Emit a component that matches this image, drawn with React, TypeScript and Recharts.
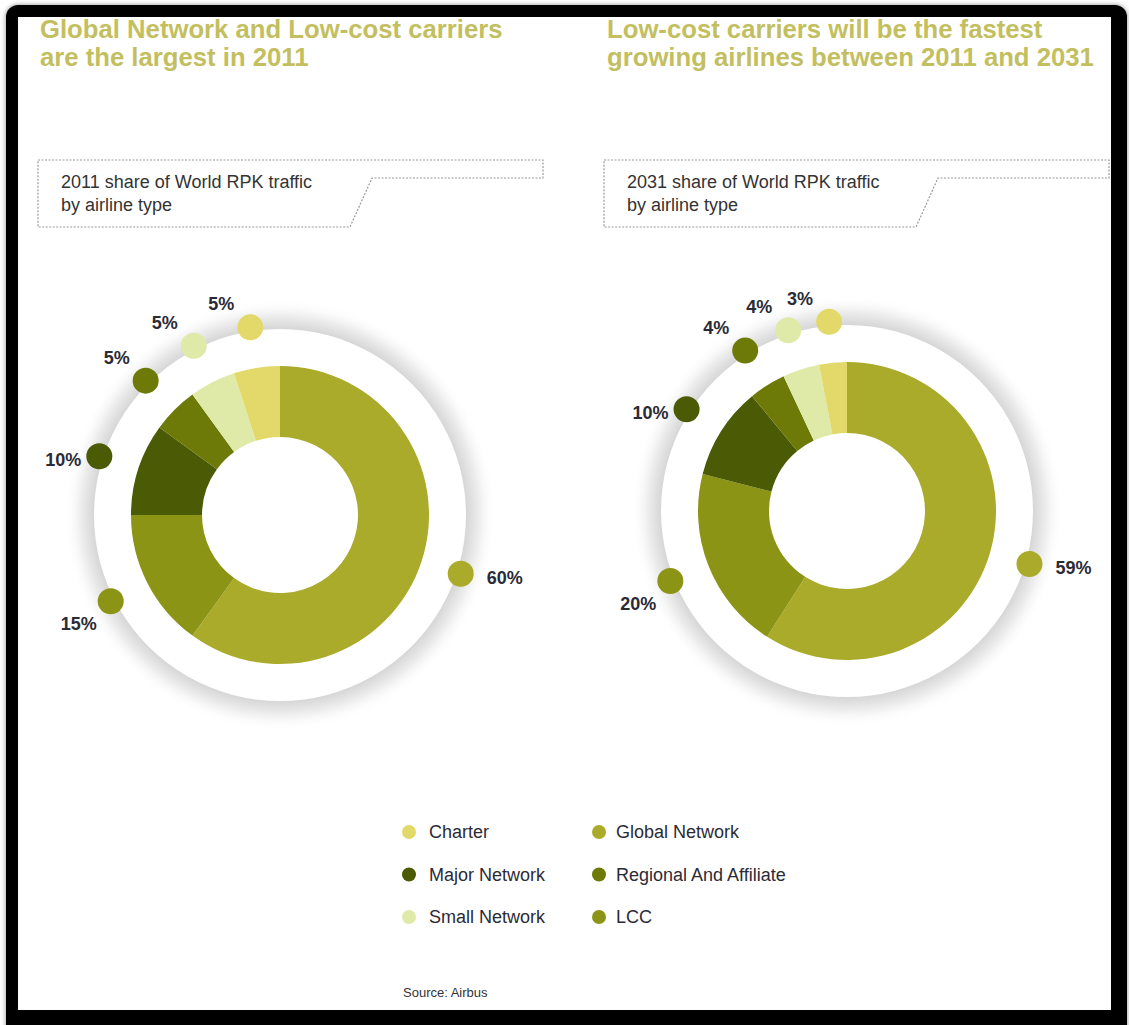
import React from 'react';
import { PieChart, Pie, Cell } from 'recharts';

const CATEGORIES = ['Global Network', 'LCC', 'Major Network', 'Regional And Affiliate', 'Small Network', 'Charter'];
const SHARE_2011 = [60, 15, 10, 5, 5, 5];
const SHARE_2031 = [59, 20, 10, 4, 4, 3];
const LEGEND_ORDER = ['Charter', 'Global Network', 'Major Network', 'Regional And Affiliate', 'Small Network', 'LCC'];
const COLORS: Record<string, string> = {
  'Global Network': '#AAAB2B',
  'LCC': '#8B9414',
  'Major Network': '#4A5A05',
  'Regional And Affiliate': '#6E7A08',
  'Small Network': '#E0EAA8',
  'Charter': '#E2D96A',
};

const TITLE_LEFT = ['Global Network and Low-cost carriers', 'are the largest in 2011'];
const TITLE_RIGHT = ['Low-cost carriers will be the fastest', 'growing airlines between 2011 and 2031'];
const SUB_LEFT = ['2011 share of World RPK traffic', 'by airline type'];
const SUB_RIGHT = ['2031 share of World RPK traffic', 'by airline type'];
const SOURCE = 'Source: Airbus';

const data2011 = CATEGORIES.map((name, i) => ({ name, value: SHARE_2011[i] }));
const data2031 = CATEGORIES.map((name, i) => ({ name, value: SHARE_2031[i] }));
const ring = [{ name: 'ring', value: 1 }];

const RAD = Math.PI / 180;
const FONT = "'Liberation Sans', Arial, Helvetica, sans-serif";
const TITLE_COLOR = '#C3BF60';
const TEXT_DARK = '#2b2b36';

const renderDot = (props: any) => {
  const { cx, cy, midAngle, index, value } = props;
  const R = 190;
  const x = cx + R * Math.cos(-midAngle * RAD);
  const y = cy + R * Math.sin(-midAngle * RAD);
  const c = Math.cos(midAngle * RAD);
  const s = Math.sin(midAngle * RAD);
  let dx = 44, dy = 4;
  if (c <= 0) {
    if (s > 0.6) { dx = -29; dy = -23; }
    else if (s > -0.2) { dx = -36; dy = 4; }
    else { dx = -32; dy = 23; }
  }
  const name = CATEGORIES[index];
  return (
    <g>
      <circle cx={x} cy={y} r={13} fill={COLORS[name]} />
      <text x={x + dx} y={y + dy} textAnchor="middle" dominantBaseline="central"
        fontFamily={FONT} fontWeight="bold" fontSize={18} fill={TEXT_DARK}>{`${value}%`}</text>
    </g>
  );
};

const boxPath = (x0: number, x1: number, notchTop: number, notchBottom: number) =>
  `M${x0},160 H${x1} V178 H${notchTop} L${notchBottom},227 H${x0} Z`;

export default function App() {
  return (
    <div style={{ position: 'absolute', left: 0, top: 0, width: 1129, height: 1025, background: '#fff', overflow: 'hidden' }}>
      <div style={{ position: 'absolute', left: 6, top: 5, width: 1121, height: 1040, background: '#000', borderRadius: 12, boxShadow: '0 0 5px rgba(0,0,0,0.45)' }} />
      <div style={{ position: 'absolute', left: 18, top: 17, width: 1093, height: 993, background: '#fff' }} />

      {[{ lines: TITLE_LEFT, left: 40 }, { lines: TITLE_RIGHT, left: 607 }].map((t, i) => (
        <div key={i} style={{ position: 'absolute', left: t.left, top: 15, fontFamily: FONT, fontWeight: 'bold', fontSize: 25.7, lineHeight: '28px', color: TITLE_COLOR, whiteSpace: 'nowrap' }}>
          {t.lines.map((l, j) => <div key={j}>{l}</div>)}
        </div>
      ))}

      {[{ lines: SUB_LEFT, left: 61 }, { lines: SUB_RIGHT, left: 627 }].map((t, i) => (
        <div key={i} style={{ position: 'absolute', left: t.left, top: 171, fontFamily: FONT, fontSize: 18, lineHeight: '23px', color: '#333', whiteSpace: 'nowrap' }}>
          {t.lines.map((l, j) => <div key={j}>{l}</div>)}
        </div>
      ))}

      <svg width={1129} height={1025} style={{ position: 'absolute', left: 0, top: 0 }}>
        <path d={boxPath(38, 543, 372, 350)} fill="none" stroke="#9a9a9a" strokeWidth={1.2} strokeDasharray="2,1.5" />
        <path d={boxPath(604, 1109, 938, 916)} fill="none" stroke="#9a9a9a" strokeWidth={1.2} strokeDasharray="2,1.5" />
        {LEGEND_ORDER.map((name, i) => {
          const col = i % 2;
          const row = Math.floor(i / 2);
          const y = 832 + row * 42.5;
          const dotX = col === 0 ? 409 : 599;
          const textX = col === 0 ? 429 : 616;
          return (
            <g key={name}>
              <circle cx={dotX} cy={y} r={7} fill={COLORS[name]} />
              <text x={textX} y={y} dominantBaseline="central" fontFamily={FONT} fontSize={18} fill={TEXT_DARK}>{name}</text>
            </g>
          );
        })}
        <text x={403} y={992} dominantBaseline="central" fontFamily={FONT} fontSize={13} fill="#333">{SOURCE}</text>
      </svg>

      <div style={{ position: 'absolute', left: 0, top: 0 }}>
        <PieChart width={1129} height={1025} margin={{ top: 0, right: 0, bottom: 0, left: 0 }}>
          <defs>
            <radialGradient id="glow" cx="50%" cy="50%" r="50%">
              <stop offset="0.86" stopColor="#d6d6d6" />
              <stop offset="0.92" stopColor="#ececec" />
              <stop offset="1" stopColor="#ffffff" stopOpacity={0} />
            </radialGradient>
          </defs>
          <Pie data={ring} dataKey="value" cx={280} cy={515} innerRadius={186} outerRadius={216} startAngle={90} endAngle={-270} fill="url(#glow)" stroke="none" isAnimationActive={false} />
          <Pie data={ring} dataKey="value" cx={847} cy={511} innerRadius={186} outerRadius={216} startAngle={90} endAngle={-270} fill="url(#glow)" stroke="none" isAnimationActive={false} />
          <Pie data={data2011} dataKey="value" nameKey="name" cx={280} cy={515} innerRadius={78} outerRadius={149} startAngle={90} endAngle={-270} stroke="none" label={renderDot} labelLine={false} isAnimationActive={false}>
            {data2011.map((d) => <Cell key={d.name} fill={COLORS[d.name]} />)}
          </Pie>
          <Pie data={data2031} dataKey="value" nameKey="name" cx={847} cy={511} innerRadius={78} outerRadius={149} startAngle={90} endAngle={-270} stroke="none" label={renderDot} labelLine={false} isAnimationActive={false}>
            {data2031.map((d) => <Cell key={d.name} fill={COLORS[d.name]} />)}
          </Pie>
        </PieChart>
      </div>
    </div>
  );
}
